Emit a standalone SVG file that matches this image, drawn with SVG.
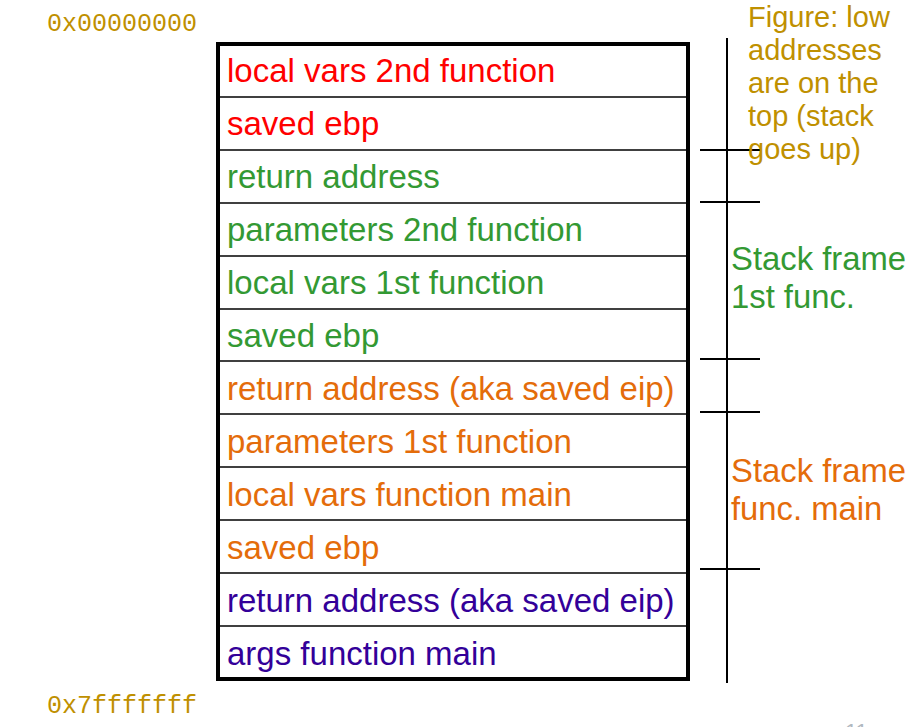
<svg xmlns="http://www.w3.org/2000/svg" width="919" height="727" viewBox="0 0 919 727">
<style>
.lbl{font-family:"Liberation Sans",Arial,sans-serif;font-size:33px}
.addr{font-family:"Liberation Mono","Courier New",monospace;font-size:25px;fill:#bf9000}
.note{font-family:"Liberation Sans",Arial,sans-serif;font-size:29px;fill:#bf9000}
.frame{font-family:"Liberation Sans",Arial,sans-serif;font-size:32.8px}
.red{fill:#ff0000}.green{fill:#339933}.orange{fill:#e46c0a}.indigo{fill:#330099}
.sep{stroke:#000;stroke-width:1.6}
.tick{stroke:#000;stroke-width:2}
</style>
<rect width="919" height="727" fill="#fff"/>
<text class="addr" x="47" y="31">0x00000000</text>
<text class="addr" x="47" y="713">0x7fffffff</text>
<g id="stack">
<rect x="218" y="44" width="470" height="635" fill="#fff" stroke="#000" stroke-width="4"/>
<line class="sep" x1="218" y1="97" x2="688" y2="97"/>
<line class="sep" x1="218" y1="150" x2="688" y2="150"/>
<line class="sep" x1="218" y1="203" x2="688" y2="203"/>
<line class="sep" x1="218" y1="256" x2="688" y2="256"/>
<line class="sep" x1="218" y1="309" x2="688" y2="309"/>
<line class="sep" x1="218" y1="361" x2="688" y2="361"/>
<line class="sep" x1="218" y1="414" x2="688" y2="414"/>
<line class="sep" x1="218" y1="467" x2="688" y2="467"/>
<line class="sep" x1="218" y1="520" x2="688" y2="520"/>
<line class="sep" x1="218" y1="573" x2="688" y2="573"/>
<line class="sep" x1="218" y1="626" x2="688" y2="626"/>
</g>
<g id="row1"><text class="lbl red" x="227" y="82">local vars 2nd function</text></g>
<g id="row2"><text class="lbl red" x="227" y="135">saved ebp</text></g>
<g id="row3"><text class="lbl green" x="227" y="188">return address</text></g>
<g id="row4"><text class="lbl green" x="227" y="241">parameters 2nd function</text></g>
<g id="row5"><text class="lbl green" x="227" y="294">local vars 1st function</text></g>
<g id="row6"><text class="lbl green" x="227" y="347">saved ebp</text></g>
<g id="row7"><text class="lbl orange" x="227" y="400">return address (aka saved eip)</text></g>
<g id="row8"><text class="lbl orange" x="227" y="453">parameters 1st function</text></g>
<g id="row9"><text class="lbl orange" x="227" y="506">local vars function main</text></g>
<g id="row10"><text class="lbl orange" x="227" y="559">saved ebp</text></g>
<g id="row11"><text class="lbl indigo" x="227" y="612">return address (aka saved eip)</text></g>
<g id="row12"><text class="lbl indigo" x="227" y="665">args function main</text></g>
<g id="connectors">
<line class="tick" x1="727" y1="38" x2="727" y2="683"/>
<line class="tick" x1="700" y1="150" x2="760" y2="150"/>
<line class="tick" x1="700" y1="202" x2="760" y2="202"/>
<line class="tick" x1="700" y1="359" x2="760" y2="359"/>
<line class="tick" x1="700" y1="412" x2="760" y2="412"/>
<line class="tick" x1="700" y1="569" x2="760" y2="569"/>
</g>
<g id="note">
<text class="note" x="748" y="27">Figure: low</text>
<text class="note" x="748" y="60">addresses</text>
<text class="note" x="748" y="93">are on the</text>
<text class="note" x="748" y="126">top (stack</text>
<text class="note" x="748" y="159">goes up)</text>
</g>
<g id="frame1">
<text class="frame green" x="731" y="270">Stack frame</text>
<text class="frame green" x="731" y="308">1st func.</text>
</g>
<g id="frame-main">
<text class="frame orange" x="731" y="482">Stack frame</text>
<text class="frame orange" x="731" y="520">func. main</text>
</g>
<text x="845" y="739" font-family="'Liberation Sans',Arial,sans-serif" font-size="22" fill="#b0b8c0">11</text>
</svg>
